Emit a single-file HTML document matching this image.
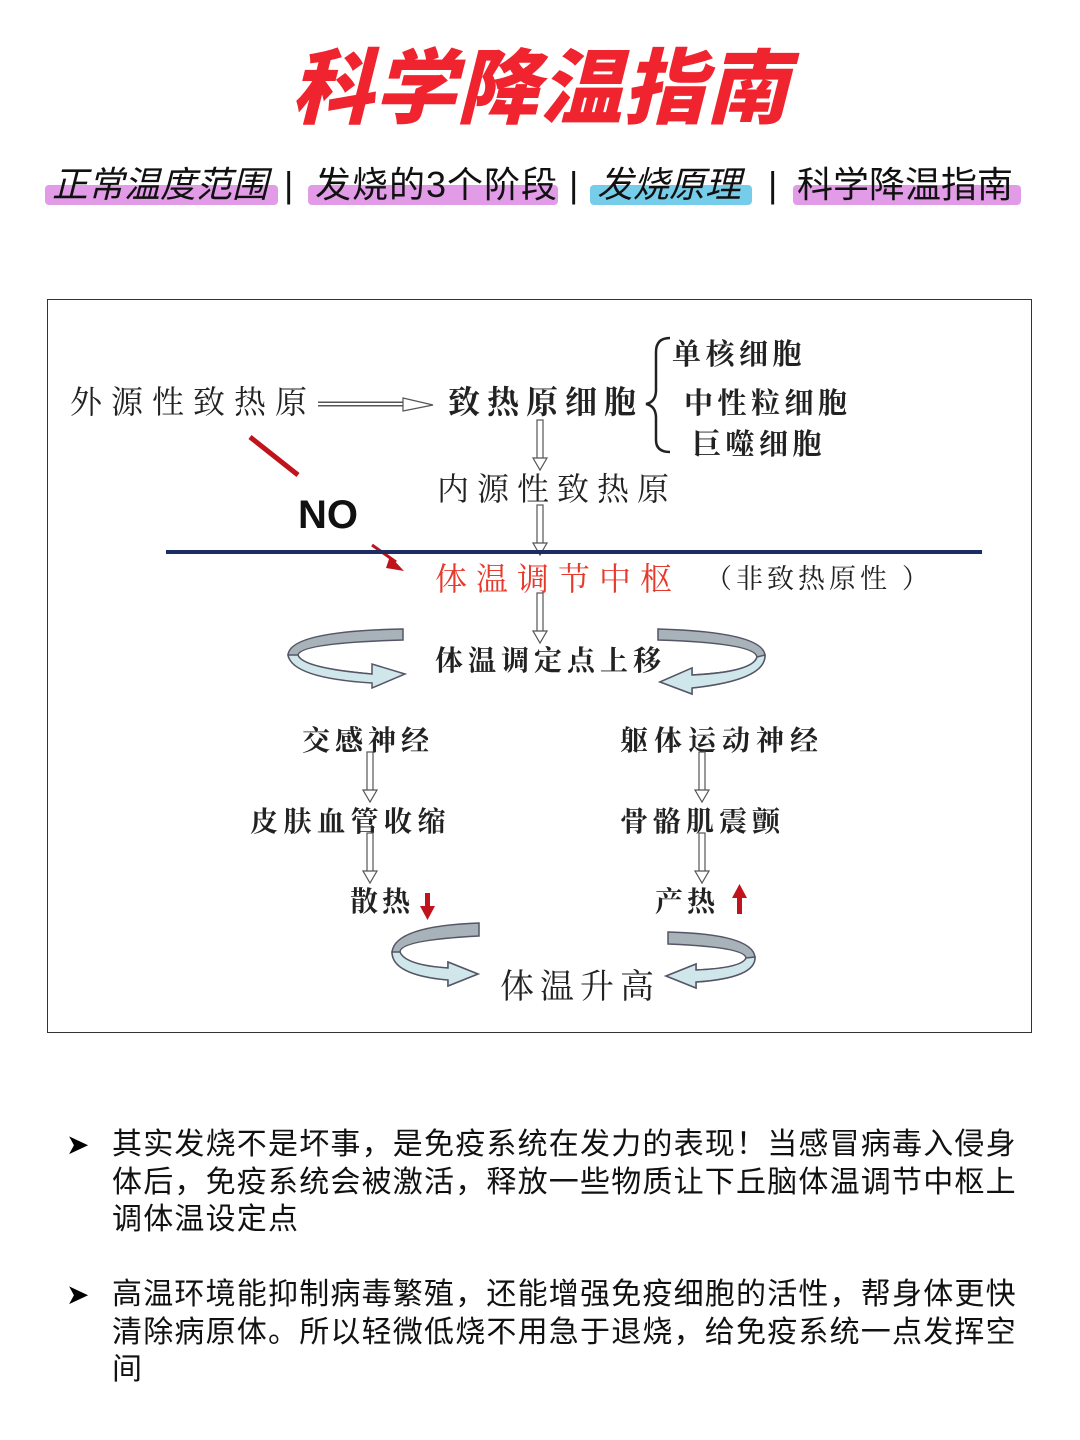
<!DOCTYPE html>
<html><head><meta charset="utf-8"><style>
body{margin:0;width:1080px;height:1440px;background:#fff;position:relative;overflow:hidden;font-family:"Liberation Sans","Noto Sans CJK SC",sans-serif}
.t{position:absolute;white-space:nowrap}
.hl{position:absolute;height:20px;border-radius:4px}
.tab{position:absolute;top:160px;font-size:36px;line-height:50px;color:#111;white-space:nowrap}
</style></head><body>
<div class="t" style="left:0;width:1080px;top:35px;text-align:center;font-size:82px;font-weight:900;font-style:italic;color:#f0242e;letter-spacing:1px;line-height:110px">科学降温指南</div>
<div class="hl" style="left:45px;top:185px;width:233px;background:#e29be6"></div>
<div class="hl" style="left:308px;top:185px;width:250px;background:#e29be6"></div>
<div class="hl" style="left:590px;top:185px;width:162px;background:#76cdea"></div>
<div class="hl" style="left:793px;top:185px;width:228px;background:#e29be6"></div>
<div class="tab" style="left:52px;font-style:italic">正常温度范围</div>
<div class="tab" style="left:284px">|</div>
<div class="tab" style="left:315px;letter-spacing:1px">发烧的3个阶段</div>
<div class="tab" style="left:569px">|</div>
<div class="tab" style="left:597px;font-style:italic">发烧原理</div>
<div class="tab" style="left:768px">|</div>
<div class="tab" style="left:797px">科学降温指南</div>
<div style="position:absolute;left:47px;top:299px;width:983px;height:732px;border:1.5px solid #333"></div>
<svg style="position:absolute;left:0;top:0" width="1080" height="1440" font-family="'Noto Serif CJK SC','AR PL UKai CN',serif" font-size="32" fill="#222">
<defs>
<g id="da"><rect x="-3" y="0" width="6" height="40" fill="#fff" stroke="#555" stroke-width="1.2"/><polygon points="-7,38 7,38 0,50" fill="#fff" stroke="#555" stroke-width="1.2"/></g>
</defs>
<text x="70" y="413" letter-spacing="9">外源性致热原</text>
<line x1="318" y1="404" x2="405" y2="404" stroke="#555" stroke-width="5"/><line x1="318" y1="404" x2="405" y2="404" stroke="#fff" stroke-width="2"/>
<polygon points="403,398 433,405 403,411" fill="#fff" stroke="#555" stroke-width="1.2"/>
<text x="448" y="413" letter-spacing="7" font-weight="bold">致热原细胞</text>
<path d="M670 338 Q656 338 656 352 L656 390 Q656 402 646 404 Q656 406 656 418 L656 440 Q656 452 670 452" fill="none" stroke="#222" stroke-width="2.5"/>
<text x="672" y="364" font-size="29" font-weight="bold" letter-spacing="4.5">单核细胞</text>
<text x="684" y="413" font-size="29" font-weight="bold" letter-spacing="4.5">中性粒细胞</text>
<text x="692" y="454" font-size="29" font-weight="bold" letter-spacing="4.5">巨噬细胞</text>
<use href="#da" x="540" y="420"/>
<text x="437" y="500" letter-spacing="8">内源性致热原</text>
<use href="#da" x="540" y="505"/>
<line x1="250" y1="437" x2="298" y2="475" stroke="#c0131c" stroke-width="5"/>
<text x="298" y="528" font-family="'Liberation Sans',sans-serif" font-weight="bold" font-size="40" fill="#111">NO</text>
<line x1="372" y1="545" x2="396" y2="562" stroke="#c0131c" stroke-width="3"/>
<polygon points="390,556 404,571 386,568" fill="#c0131c"/>
<line x1="166" y1="552" x2="982" y2="552" stroke="#1b2d63" stroke-width="4"/>
<text x="435" y="590" fill="#e83a2c" letter-spacing="9">体温调节中枢</text>
<text x="705" y="588" font-size="27" letter-spacing="4">（非致热原性 ）</text>
<use href="#da" x="540" y="593"/>
<text x="435" y="670" font-size="28" font-weight="bold" letter-spacing="5">体温调定点上移</text>
<g stroke="#556" stroke-width="1.5">
<path d="M403 629 L403 640 Q300 643 298 655 Q302 668 372 674 L372 680 Q290 674 288 655 Q290 631 403 629Z" fill="#a7b3b8"/>
<path d="M298 655 Q302 668 372 674 L372 664 L405 674 L372 688 L372 683 Q292 678 288 655Z" fill="#cfe6ea"/>
<path d="M658 629 L658 640 Q755 643 757 657 Q753 672 692 675 L692 668 L660 682 L692 694 L692 688 Q766 680 765 655 Q762 632 658 629Z" fill="#a7b3b8"/>
<path d="M757 657 Q753 672 692 675 L692 668 L660 682 L692 694 L692 688 Q766 680 765 655Z" fill="#cfe6ea"/>
<path d="M479 923 L479 936 Q400 940 400 952 Q405 965 448 968 L448 962 L478 974 L448 986 L448 980 Q392 975 392 952 Q395 926 479 923Z" fill="#a7b3b8"/>
<path d="M400 952 Q405 965 448 968 L448 962 L478 974 L448 986 L448 980 Q392 975 392 952Z" fill="#cfe6ea"/>
<path d="M668 932 L668 944 Q745 947 746 958 Q742 968 696 970 L696 964 L666 976 L696 988 L696 982 Q756 978 755 957 Q752 934 668 932Z" fill="#a7b3b8"/>
<path d="M746 958 Q742 968 696 970 L696 964 L666 976 L696 988 L696 982 Q756 978 755 957Z" fill="#cfe6ea"/>
</g>
<g font-size="28" font-weight="bold">
<text x="302" y="750" letter-spacing="5">交感神经</text>
<text x="620" y="750" letter-spacing="6">躯体运动神经</text>
<text x="250" y="831" letter-spacing="5.5">皮肤血管收缩</text>
<text x="620" y="831" letter-spacing="5">骨骼肌震颤</text>
<text x="350" y="911" letter-spacing="4">散热</text>
<text x="655" y="911" letter-spacing="4">产热</text>
</g>
<use href="#da" x="370" y="752"/><use href="#da" x="370" y="833"/>
<use href="#da" x="702" y="752"/><use href="#da" x="702" y="833"/>
<rect x="425" y="893" width="5" height="14" fill="#c0131c"/><polygon points="420,906 435,906 427.5,920" fill="#c0131c"/>
<rect x="737" y="897" width="5" height="17" fill="#c0131c"/><polygon points="732,898 747,898 739.5,884" fill="#c0131c"/>
<text x="500" y="998" font-size="34" letter-spacing="6">体温升高</text>
</svg>
<div class="t" style="left:66px;top:1126px;font-size:28px;line-height:38px">➤</div>
<div style="position:absolute;left:112px;top:1126px;width:912px;font-size:30px;letter-spacing:1.2px;line-height:37.5px;color:#111">其实发烧不是坏事，是免疫系统在发力的表现！当感冒病毒入侵身体后，免疫系统会被激活，释放一些物质让下丘脑体温调节中枢上调体温设定点</div>
<div class="t" style="left:66px;top:1276px;font-size:28px;line-height:38px">➤</div>
<div style="position:absolute;left:112px;top:1276px;width:912px;font-size:30px;letter-spacing:1.2px;line-height:37.5px;color:#111">高温环境能抑制病毒繁殖，还能增强免疫细胞的活性，帮身体更快清除病原体。所以轻微低烧不用急于退烧，给免疫系统一点发挥空间</div>
</body></html>
